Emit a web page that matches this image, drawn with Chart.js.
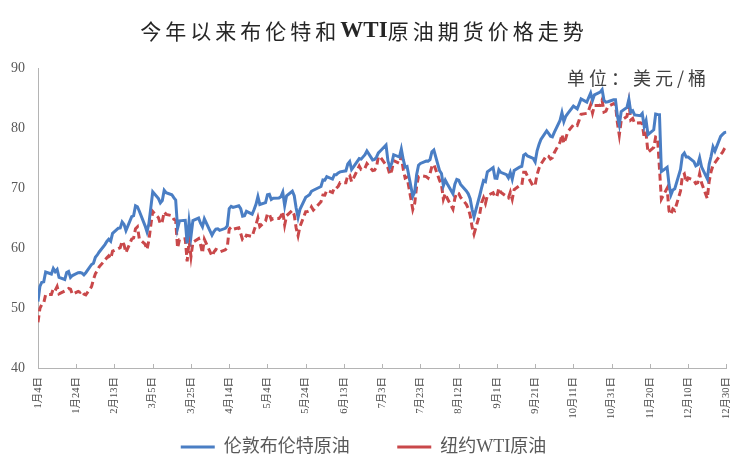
<!DOCTYPE html>
<html>
<head>
<meta charset="utf-8">
<script src="https://cdn.jsdelivr.net/npm/chart.js@4.4.1/dist/chart.umd.min.js"></script>
<style>
    body { margin: 0; background: #fff; }
    canvas { display: block; }
</style>
</head>
<body>
<canvas id="oil-line-chart" width="748" height="476"></canvas>
<script>
// trading days of 2021 (month/day)
var dates = [
    '1/4','1/5','1/6','1/7','1/8','1/11','1/12','1/13','1/14','1/15','1/18','1/19','1/20','1/21','1/22','1/25','1/26','1/27','1/28','1/29',
    '2/1','2/2','2/3','2/4','2/5','2/8','2/9','2/10','2/11','2/12','2/15','2/16','2/17','2/18','2/19','2/22','2/23','2/24','2/25','2/26',
    '3/1','3/2','3/3','3/4','3/5','3/8','3/9','3/10','3/11','3/12','3/15','3/16','3/17','3/18','3/19','3/22','3/23','3/24','3/25','3/26','3/29','3/30','3/31',
    '4/1','4/5','4/6','4/7','4/8','4/9','4/12','4/13','4/14','4/15','4/16','4/19','4/20','4/21','4/22','4/23','4/26','4/27','4/28','4/29','4/30',
    '5/3','5/4','5/5','5/6','5/7','5/10','5/11','5/12','5/13','5/14','5/17','5/18','5/19','5/20','5/21','5/24','5/25','5/26','5/27','5/28',
    '6/1','6/2','6/3','6/4','6/7','6/8','6/9','6/10','6/11','6/14','6/15','6/16','6/17','6/18','6/21','6/22','6/23','6/24','6/25','6/28','6/29','6/30',
    '7/1','7/2','7/5','7/6','7/7','7/8','7/9','7/12','7/13','7/14','7/15','7/16','7/19','7/20','7/21','7/22','7/23','7/26','7/27','7/28','7/29','7/30',
    '8/2','8/3','8/4','8/5','8/6','8/9','8/10','8/11','8/12','8/13','8/16','8/17','8/18','8/19','8/20','8/23','8/24','8/25','8/26','8/27','8/30','8/31',
    '9/1','9/2','9/3','9/6','9/7','9/8','9/9','9/10','9/13','9/14','9/15','9/16','9/17','9/20','9/21','9/22','9/23','9/24','9/27','9/28','9/29','9/30',
    '10/1','10/4','10/5','10/6','10/7','10/8','10/11','10/12','10/13','10/14','10/15','10/18','10/19','10/20','10/21','10/22','10/25','10/26','10/27','10/28','10/29',
    '11/1','11/2','11/3','11/4','11/5','11/8','11/9','11/10','11/11','11/12','11/15','11/16','11/17','11/18','11/19','11/22','11/23','11/24','11/25','11/26','11/29','11/30',
    '12/1','12/2','12/3','12/6','12/7','12/8','12/9','12/10','12/13','12/14','12/15','12/16','12/17','12/20','12/21','12/22','12/23','12/24','12/27','12/28','12/29','12/30'
];

// 伦敦布伦特原油
var brent = [
    51.09,53.60,54.30,54.38,55.99,55.66,56.58,56.06,56.42,55.10,54.75,55.90,56.08,55.10,55.41,55.88,55.91,55.81,55.53,55.88,
    57.25,57.46,58.46,58.84,59.34,60.56,61.09,61.47,61.14,62.43,63.30,63.35,64.34,63.93,62.91,65.24,65.37,67.04,66.88,66.13,
    63.69,62.70,64.07,66.74,69.36,68.24,67.52,67.90,69.63,69.22,68.88,68.39,68.00,63.28,64.53,64.62,60.79,64.41,61.95,64.57,64.98,64.14,63.54,
    64.86,62.15,62.74,63.16,63.20,62.95,63.28,63.67,66.58,66.94,66.77,67.05,66.57,65.32,65.40,66.11,65.65,66.42,67.27,68.56,67.25,
    67.56,68.88,68.96,68.09,68.28,68.32,68.55,69.32,67.05,68.71,69.46,68.71,66.66,65.11,66.44,68.46,68.65,68.87,69.46,69.63,
    70.25,71.35,71.31,71.89,71.49,72.22,72.22,72.52,72.69,72.86,73.99,74.39,73.08,73.51,74.90,74.81,75.19,75.56,76.18,74.68,74.76,75.13,
    75.84,76.17,77.16,74.53,73.43,74.12,75.55,75.16,76.49,74.76,73.47,73.59,68.62,69.35,72.23,73.79,74.10,74.50,74.48,74.74,76.05,76.33,
    72.89,72.41,70.38,71.29,70.70,69.04,70.63,71.44,71.31,70.59,69.51,69.03,68.23,66.45,65.18,68.75,70.05,71.25,71.07,72.70,73.41,71.63,
    71.59,73.03,72.61,72.22,71.69,72.60,71.45,72.92,73.51,73.60,75.46,75.67,75.34,74.92,74.36,76.19,77.25,78.09,79.53,79.09,78.64,78.52,
    79.28,81.26,82.56,81.08,81.95,82.39,83.65,83.42,83.18,84.00,84.86,84.33,85.08,85.82,84.61,85.53,85.99,86.40,84.58,84.32,84.38,
    84.71,84.72,81.99,80.54,82.74,83.43,84.78,82.64,82.87,82.17,82.05,82.43,80.28,81.24,78.89,79.70,82.31,82.25,82.22,72.72,73.44,70.57,
    68.87,69.67,69.88,73.08,75.44,75.82,75.15,75.15,74.39,73.70,73.88,75.02,73.52,71.52,73.98,75.29,76.85,76.14,78.60,78.94,79.23,79.32
];

// 纽约WTI原油 (null = no settlement that day)
var wti = [
    47.62,49.93,50.63,50.83,52.24,52.25,53.21,52.91,53.57,52.36,null,52.98,53.24,53.13,52.27,52.77,52.61,52.85,52.34,52.20,
    53.55,54.76,55.69,56.23,56.85,57.97,58.36,58.68,58.24,59.47,null,60.05,61.14,60.52,59.24,61.49,61.67,63.22,63.53,61.50,
    60.64,59.75,61.28,63.83,66.09,65.05,64.01,64.44,66.02,65.61,65.39,64.80,64.60,60.00,61.42,61.55,57.76,61.18,58.56,60.97,61.56,60.55,59.16,
    61.45,58.65,59.33,59.77,59.60,59.32,59.70,60.18,63.15,63.46,63.13,63.38,62.44,61.35,61.43,62.14,61.91,62.94,63.86,65.01,63.58,
    64.49,65.69,65.63,64.71,64.90,64.92,65.28,66.08,63.82,65.37,66.27,65.49,63.36,62.05,63.58,66.05,66.07,66.21,66.85,66.32,
    67.72,68.83,68.81,69.62,69.23,70.05,69.96,70.29,70.91,70.88,72.12,72.15,71.04,71.64,73.66,73.06,73.08,73.30,74.05,72.91,72.98,73.47,
    75.23,75.16,null,73.37,72.20,72.94,74.56,74.10,75.25,73.13,71.65,71.81,66.42,67.42,70.30,71.91,72.07,71.91,71.65,72.39,73.62,73.95,
    71.26,70.56,68.15,69.09,68.28,66.48,68.29,69.25,69.09,68.44,67.29,66.59,65.46,63.50,62.32,65.64,67.54,68.36,67.42,68.74,69.21,68.50,
    68.59,69.99,69.29,null,68.35,69.30,68.14,69.72,70.45,70.46,72.61,72.61,71.97,70.29,70.56,72.23,73.30,73.98,75.45,75.29,74.83,75.03,
    75.88,77.62,78.93,77.43,78.30,79.35,80.52,80.64,80.44,81.31,82.28,82.44,82.96,83.87,82.50,83.76,83.76,84.65,82.66,82.81,83.57,
    84.05,83.91,80.86,78.81,81.27,81.93,84.15,81.34,81.59,80.79,80.88,80.76,78.36,79.01,75.94,76.75,78.50,78.39,null,68.15,69.95,66.18,
    65.57,66.50,66.26,69.49,72.05,72.36,70.94,71.67,71.29,70.73,70.87,72.38,70.86,68.23,71.12,72.76,73.79,null,75.57,75.98,76.56,76.99
];

// date-axis labels, one every 20 days from 1/4
var tickLabels = [
    '1月4日','1月24日','2月13日','3月5日','3月25日','4月14日','5月4日','5月24日','6月13日','7月3日',
    '7月23日','8月12日','9月1日','9月21日','10月11日','10月31日','11月20日','12月10日','12月30日'
];

var yTicks = [40, 50, 60, 70, 80, 90];

var axisColor = '#b4b4b4';
var textColor = '#595959';
var serifCjk = "'Liberation Serif', 'Noto Sans CJK SC', serif";

// days since 1/4
function dayOf(md) {
    var p = md.split('/');
    return (Date.UTC(2021, +p[0] - 1, +p[1]) - Date.UTC(2021, 0, 4)) / 86400000;
}

function toPoints(values) {
    return dates.map(function (d, i) {
        return { x: dayOf(d), y: values[i] };
    });
}

// heading and unit, drawn with letter spacing
var headerText = {
    id: 'headerText',
    afterDraw: function (chart) {
        var ctx = chart.ctx;
        var segs = [
            ['今年以来布伦特和', "21px 'Noto Sans CJK SC'", '4px'],
            ['WTI', "bold 23px 'Liberation Serif'", '0px'],
            ['原油期货价格走势', "21px 'Noto Sans CJK SC'", '4px']
        ];
        ctx.save();
        ctx.fillStyle = '#262626';
        ctx.textBaseline = 'middle';
        ctx.textAlign = 'left';
        var total = 0;
        segs.forEach(function (s) {
            ctx.font = s[1];
            ctx.letterSpacing = s[2];
            s.push(ctx.measureText(s[0]).width);
            total += s[3];
        });
        var x = 364 - total / 2;
        segs.forEach(function (s) {
            ctx.font = s[1];
            ctx.letterSpacing = s[2];
            ctx.fillText(s[0], x, 31);
            x += s[3];
        });

        ctx.font = "18px 'Noto Sans CJK SC'";
        ctx.letterSpacing = '4px';
        ctx.fillStyle = '#404040';
        ctx.fillText('单位：美元/桶', 567, 78);
        ctx.restore();
    }
};

// small tick marks pointing up into the plot
var innerTicks = {
    id: 'innerTicks',
    afterDraw: function (chart) {
        var scale = chart.scales.x;
        var ctx = chart.ctx;
        var bottom = chart.chartArea.bottom;
        ctx.save();
        ctx.strokeStyle = axisColor;
        ctx.lineWidth = 1;
        ctx.beginPath();
        scale.ticks.forEach(function (t, i) {
            var px = Math.round(scale.getPixelForTick(i)) + 0.5;
            ctx.moveTo(px, bottom);
            ctx.lineTo(px, bottom - 4);
        });
        ctx.stroke();
        ctx.restore();
    }
};

function drawOilChart() {
    var ctx = document.getElementById('oil-line-chart');

    new Chart(ctx, {
        type: 'line',
        data: {
            datasets: [{
                label: '伦敦布伦特原油',
                data: toPoints(brent),
                borderColor: '#4a7ec4',
                backgroundColor: '#4a7ec4',
                borderWidth: 3,
                pointRadius: 0,
                spanGaps: true,
                tension: 0
            }, {
                label: '纽约WTI原油',
                data: toPoints(wti),
                borderColor: '#c9484a',
                backgroundColor: '#c9484a',
                borderWidth: 3,
                borderDash: [7, 4],
                pointRadius: 0,
                spanGaps: true,
                tension: 0
            }]
        },
        options: {
            responsive: false,
            animation: false,
            devicePixelRatio: 1,
            layout: { padding: { top: 68, right: 21, bottom: 10, left: 0 } },
            plugins: {
                title: { display: false },
                tooltip: { enabled: false },
                legend: {
                    position: 'bottom',
                    labels: {
                        usePointStyle: true,
                        pointStyle: 'line',
                        pointStyleWidth: 34,
                        padding: 16,
                        color: textColor,
                        font: { family: serifCjk, size: 18 },
                        // wider gap after the first entry, as in the original
                        generateLabels: function (chart) {
                            var items = Chart.defaults.plugins.legend.labels.generateLabels(chart);
                            items[0].text += '       ';
                            return items;
                        }
                    }
                }
            },
            scales: {
                x: {
                    type: 'linear',
                    min: 0,
                    max: 360,
                    afterFit: function (scale) { scale.height = 54; },
                    grid: { display: false, drawTicks: false },
                    border: { display: true, color: axisColor, width: 1 },
                    ticks: {
                        stepSize: 20,
                        autoSkip: false,
                        minRotation: 90,
                        maxRotation: 90,
                        padding: 9,
                        color: '#4a4a4a',
                        font: { family: serifCjk, size: 10.5 },
                        callback: function (v, i) { return tickLabels[i]; }
                    }
                },
                y: {
                    min: yTicks[0],
                    max: yTicks[yTicks.length - 1],
                    afterFit: function (scale) { scale.width = 38; },
                    grid: { display: false, drawTicks: false },
                    border: { display: true, color: axisColor, width: 1 },
                    ticks: {
                        stepSize: 10,
                        padding: 13,
                        color: textColor,
                        font: { family: serifCjk, size: 14 }
                    }
                }
            }
        },
        plugins: [headerText, innerTicks]
    });
}

drawOilChart();
</script>
</body>
</html>
